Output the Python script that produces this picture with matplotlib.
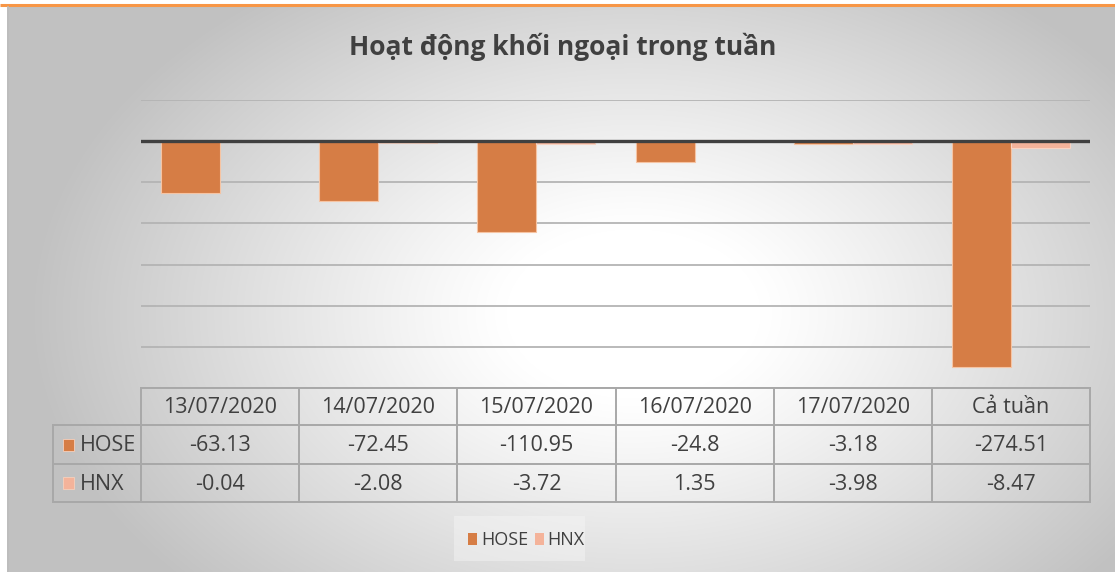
import numpy as np
import matplotlib
matplotlib.use("Agg")
import matplotlib.pyplot as plt
from matplotlib.patches import Rectangle

# ---- data ----
categories = ["13/07/2020", "14/07/2020", "15/07/2020", "16/07/2020", "17/07/2020", "Cả tuần"]
series_names = ["HOSE", "HNX"]
hose = [-63.13, -72.45, -110.95, -24.8, -3.18, -274.51]
hnx = [-0.04, -2.08, -3.72, 1.35, -3.98, -8.47]
y_ticks = [50, 0, -50, -100, -150, -200, -250, -300]
title = "Hoạt động khối ngoại trong tuần"

# ---- style ----
W, H = 1115, 572
C_HOSE = "#D67D45"
C_HNX = "#F4B39A"
TXT = "#404040"
GRID = "#B4B4B4"
TBL = "#A8A8A8"
FONT = ["Open Sans", "DejaVu Sans"]
plt.rcParams["font.family"] = FONT

fig = plt.figure(figsize=(W / 100, H / 100), dpi=100)

def px_axes(x0, y0, x1, y1, **kw):
    return fig.add_axes([x0 / W, 1 - y1 / H, (x1 - x0) / W, (y1 - y0) / H], **kw)

# background gradient
bg = fig.add_axes([0, 0, 1, 1])
bg.set_xlim(0, W); bg.set_ylim(H, 0); bg.axis("off")
yy, xx = np.mgrid[0:H, 0:W]
r = np.sqrt(((xx - 630) / 640.0) ** 2 + ((yy - 310) / 430.0) ** 2)
val = 1 - 0.26 * np.clip((r - 0.2) / 0.8, 0, None) ** 1.1
val = np.clip(val, 0.76, 1.0)
img = np.dstack([val, val, val])
bg.imshow(img, extent=(7, W, H, 7), aspect="auto", zorder=0)
bg.add_patch(Rectangle((0, 0), W, 7, facecolor="white", edgecolor="none", zorder=1))
bg.add_patch(Rectangle((0, 0), 7, H, facecolor="white", edgecolor="none", zorder=1))
bg.plot([0, W], [5, 5], color="#F79646", lw=2.2, zorder=3, solid_capstyle="butt")
bg.plot([7.5, 7.5], [7, H], color="#BDBDBD", lw=1.2, zorder=3)

# title
bg.text(563, 47, title, ha="center", va="center", fontsize=19, fontweight="bold",
        color=TXT, zorder=4)

# ---- main bar axes ----
ax = px_axes(141, 100, 1090, 388)
ax.patch.set_alpha(0)
for s in ax.spines.values():
    s.set_visible(False)
ax.set_xlim(-0.5, len(categories) - 0.5)
ax.set_ylim(y_ticks[-1], y_ticks[0])
ax.set_xticks([]); ax.set_yticks([])
for t in y_ticks:
    if t == 0:
        continue
    ax.axhline(t, color=GRID, lw=1.3, zorder=1)
x = np.arange(len(categories))
bw = 0.373
ax.bar(x - bw / 2, hose, width=bw, color=C_HOSE, edgecolor="#F6C4A3", linewidth=0.8, zorder=2)
ax.bar(x + bw / 2, hnx, width=bw, color=C_HNX, edgecolor="#F9D3C2", linewidth=0.8, zorder=2)
ax.axhline(0, color="#404040", lw=2.4, zorder=3)

# ---- data table (pixel coordinates) ----
tb = px_axes(0, 0, W, H)
tb.set_xlim(0, W); tb.set_ylim(H, 0); tb.axis("off"); tb.patch.set_alpha(0)
col_edges = np.linspace(141, 1090, len(categories) + 1)
rows_y = [388, 425, 464, 502]
label_x0 = 53
lw_t = 1.4
tb.plot([141, 1090], [rows_y[0]] * 2, color=TBL, lw=lw_t)
for yv in rows_y[1:]:
    tb.plot([label_x0, 1090], [yv] * 2, color=TBL, lw=lw_t)
for xv in col_edges:
    tb.plot([xv, xv], [rows_y[0], rows_y[-1]], color=TBL, lw=lw_t)
tb.plot([label_x0, label_x0], [rows_y[1], rows_y[-1]], color=TBL, lw=lw_t)

fs_t = 15.5
for i, c in enumerate(categories):
    cx = (col_edges[i] + col_edges[i + 1]) / 2
    tb.text(cx, (rows_y[0] + rows_y[1]) / 2 + 1, c, ha="center", va="center", fontsize=fs_t, color=TXT)
    tb.text(cx, (rows_y[1] + rows_y[2]) / 2 + 1, f"{hose[i]:g}", ha="center", va="center", fontsize=fs_t, color=TXT)
    tb.text(cx, (rows_y[2] + rows_y[3]) / 2 + 1, f"{hnx[i]:g}", ha="center", va="center", fontsize=fs_t, color=TXT)

for k, (name, col) in enumerate(zip(series_names, [C_HOSE, C_HNX])):
    yc = (rows_y[k + 1] + rows_y[k + 2]) / 2
    tb.add_patch(Rectangle((63, yc - 6), 11, 12, facecolor=col, edgecolor="#F6D0BC", lw=0.6))
    tb.text(80, yc + 1, name, ha="left", va="center", fontsize=fs_t, color=TXT)

# ---- legend ----
tb.add_patch(Rectangle((454, 516), 131, 45, facecolor="#F6F6F6", edgecolor="none", alpha=0.45))
leg_items = [(468, 481), (535, 547)]
for (sx, tx), name, col in zip(leg_items, series_names, [C_HOSE, C_HNX]):
    tb.add_patch(Rectangle((sx, 533), 9, 12, facecolor=col, edgecolor="none"))
    tb.text(tx, 540, name, ha="left", va="center", fontsize=13, color=TXT)

fig.savefig("out.png", dpi=100)
